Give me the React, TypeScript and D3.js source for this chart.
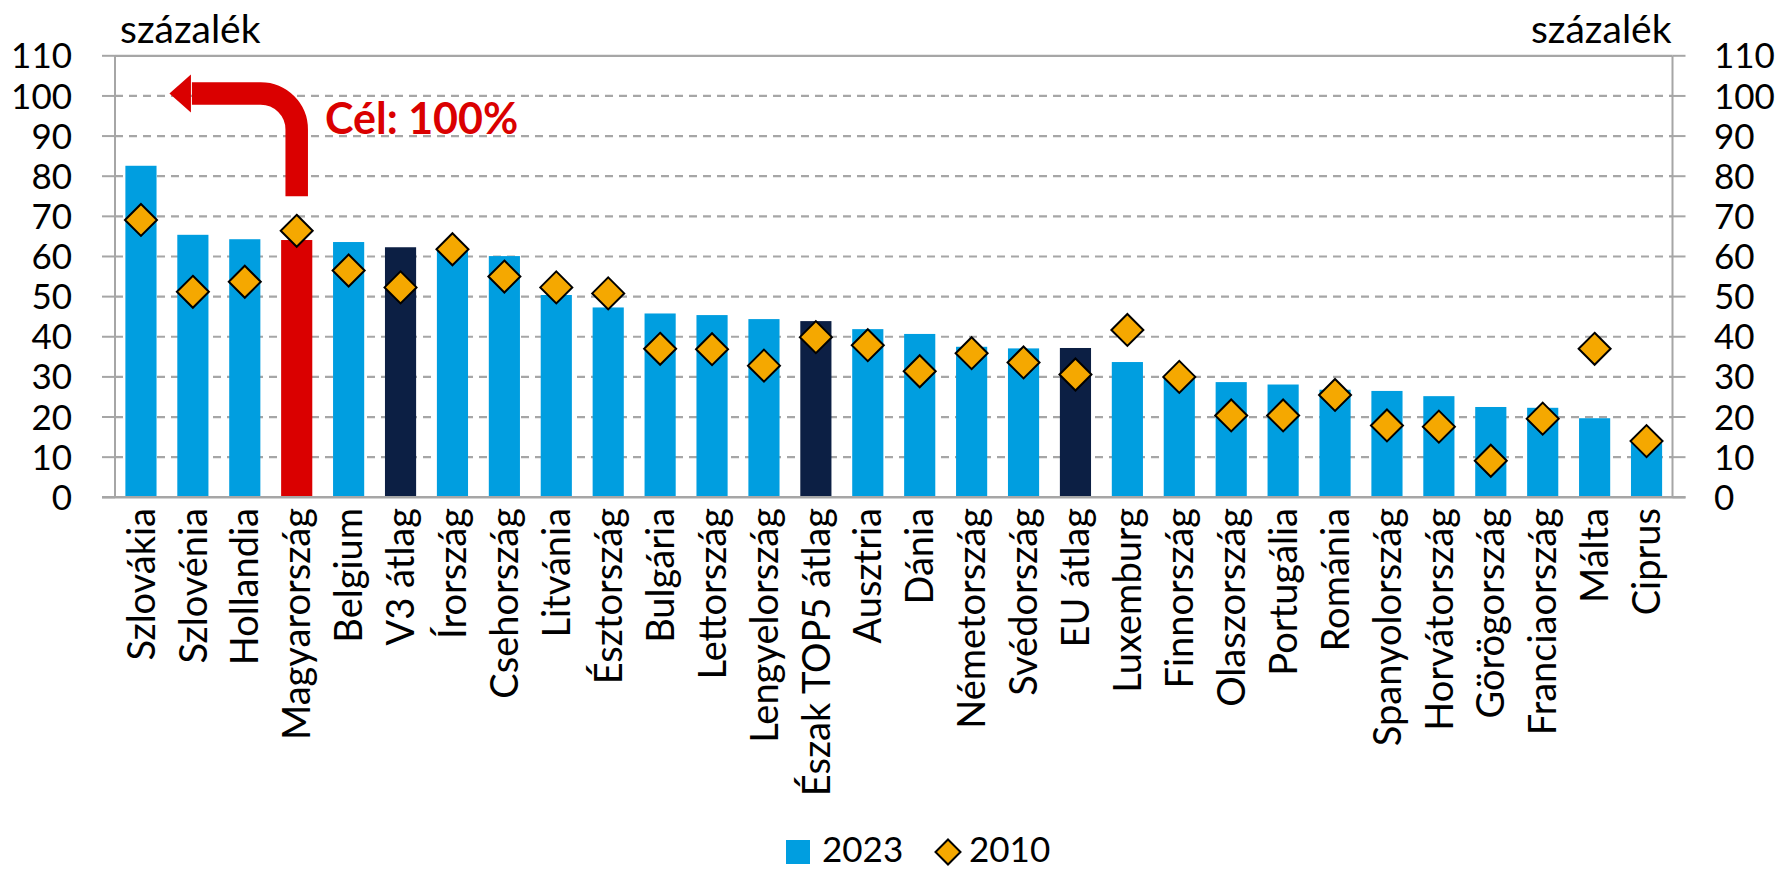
import React from "react";
import * as d3 from "d3";

const categories = [
  "Szlovákia", "Szlovénia", "Hollandia", "Magyarország", "Belgium", "V3 átlag",
  "Írország", "Csehország", "Litvánia", "Észtország", "Bulgária", "Lettország",
  "Lengyelország", "Észak TOP5 átlag", "Ausztria", "Dánia", "Németország",
  "Svédország", "EU átlag", "Luxemburg", "Finnország", "Olaszország", "Portugália",
  "Románia", "Spanyolország", "Horvátország", "Görögország", "Franciaország",
  "Málta", "Ciprus",
];
const values2023 = [
  82.6, 65.4, 64.3, 64.1, 63.6, 62.3, 61.5, 60.1, 50.4, 47.3, 45.8, 45.4, 44.4,
  43.9, 41.9, 40.7, 37.5, 37.1, 37.2, 33.7, 29.8, 28.7, 28.1, 26.8, 26.5, 25.2,
  22.5, 22.3, 19.7, 13.5,
];
const values2010 = [
  69.1, 51.2, 53.7, 66.4, 56.5, 52.3, 61.8, 55.0, 52.3, 50.8, 37.0, 36.9, 32.8,
  39.9, 37.9, 31.4, 35.9, 33.6, 30.6, 41.7, 30.0, 20.4, 20.4, 25.5, 17.9, 17.6,
  9.1, 19.6, 37.0, 14.0,
];
const highlighted = ["Magyarország"];
const averages = ["V3 átlag", "Észak TOP5 átlag", "EU átlag"];
const yTicks = [0, 10, 20, 30, 40, 50, 60, 70, 80, 90, 100, 110];
const seriesNames = ["2023", "2010"];
const unitLabel = "százalék";
const targetLabel = "Cél: 100%";
const targetValue = 100.6;
const arrowStartValue = 75;

const W = 1779;
const H = 869;
const LEFT = 115;
const RIGHT = 1672.5;
const TOP = 55.8;
const BOTTOM = 497.3;

const C_BLUE = "#009EE0";
const C_NAVY = "#0C1F44";
const C_RED = "#DA0000";
const C_ORANGE = "#F5A800";
const C_GRID = "#A6A6A6";
const FONT = "Lato, 'Open Sans', sans-serif";

export default function App() {
  const x = d3.scaleBand<string>().domain(categories).range([LEFT, RIGHT]).paddingInner(0.4).paddingOuter(0.2);
  const y = d3.scaleLinear().domain([0, 110]).range([BOTTOM, TOP]);
  const step = x.step();
  const cx = (c: string) => (x(c) as number) + x.bandwidth() / 2;

  const diamond = (px: number, py: number, r: number) =>
    `M${px},${py - r}L${px + r},${py}L${px},${py + r}L${px - r},${py}Z`;

  // arrow geometry
  const ax = cx(highlighted[0]);
  const ay0 = y(arrowStartValue);
  const ay1 = y(targetValue);
  const rad = 36;
  const tipX = LEFT + step * 1 + 2.5;
  const headBase = tipX + 21.5;
  const headHalf = 19;
  const shaft = `M${ax},${ay0}L${ax},${ay1 + rad}A${rad},${rad} 0 0 0 ${ax - rad},${ay1}L${headBase + 1},${ay1}`;

  return (
    <svg width={W} height={H} style={{ position: "absolute", left: 0, top: 0, background: "#fff" }} fontFamily={FONT}>
      {/* gridlines */}
      {yTicks.map((t) => (
        <g key={t}>
          <line x1={LEFT - 13} x2={LEFT} y1={y(t)} y2={y(t)} stroke={C_GRID} strokeWidth={2} />
          <line x1={RIGHT} x2={RIGHT + 13} y1={y(t)} y2={y(t)} stroke={C_GRID} strokeWidth={2} />
          {t > 0 && (
            <line
              x1={LEFT}
              x2={RIGHT}
              y1={y(t)}
              y2={y(t)}
              stroke={C_GRID}
              strokeWidth={2.2}
              strokeDasharray={t === 110 ? undefined : "8,6"}
            />
          )}
          <text x={72} y={y(t)} dy="0.36em" textAnchor="end" fontSize={35} fill="#000">{t}</text>
          <text x={1714} y={y(t)} dy="0.36em" textAnchor="start" fontSize={35} fill="#000">{t}</text>
        </g>
      ))}
      {/* axes */}
      <line x1={LEFT} x2={LEFT} y1={TOP} y2={BOTTOM} stroke={C_GRID} strokeWidth={2} />
      <line x1={RIGHT} x2={RIGHT} y1={TOP} y2={BOTTOM} stroke={C_GRID} strokeWidth={2} />

      {/* bars */}
      {categories.map((c, i) => (
        <rect
          key={c}
          x={x(c)}
          width={x.bandwidth()}
          y={y(values2023[i])}
          height={BOTTOM - y(values2023[i])}
          fill={highlighted.includes(c) ? C_RED : averages.includes(c) ? C_NAVY : C_BLUE}
        />
      ))}
      <line x1={LEFT - 13} x2={RIGHT + 13} y1={BOTTOM} y2={BOTTOM} stroke={C_GRID} strokeWidth={2.5} />

      {/* arrow */}
      <path d={shaft} fill="none" stroke={C_RED} strokeWidth={22.5} />
      <path d={`M${tipX},${ay1}L${headBase},${ay1 - headHalf}L${headBase},${ay1 + headHalf}Z`} fill={C_RED} />
      <text x={325} y={134} fontSize={43} fontWeight={700} fill={C_RED}>{targetLabel}</text>

      {/* diamonds */}
      {categories.map((c, i) => (
        <path key={c} d={diamond(cx(c), y(values2010[i]), 16)} fill={C_ORANGE} stroke="#000" strokeWidth={2} />
      ))}

      {/* x labels */}
      {categories.map((c) => (
        <text
          key={c}
          transform={`translate(${cx(c)},${508}) rotate(-90)`}
          dy="0.36em"
          textAnchor="end"
          fontSize={38}
          fill="#000"
        >
          {c}
        </text>
      ))}

      {/* unit labels */}
      <text x={120} y={42.7} fontSize={39} fill="#000">{unitLabel}</text>
      <text x={1671.5} y={42.7} fontSize={39} textAnchor="end" fill="#000">{unitLabel}</text>

      {/* legend */}
      <rect x={786} y={840} width={24} height={24} fill={C_BLUE} />
      <text x={822} y={862} fontSize={35} fill="#000">{seriesNames[0]}</text>
      <path d={diamond(948, 852, 12.5)} fill={C_ORANGE} stroke="#000" strokeWidth={2} />
      <text x={969} y={862} fontSize={35} fill="#000">{seriesNames[1]}</text>
    </svg>
  );
}
